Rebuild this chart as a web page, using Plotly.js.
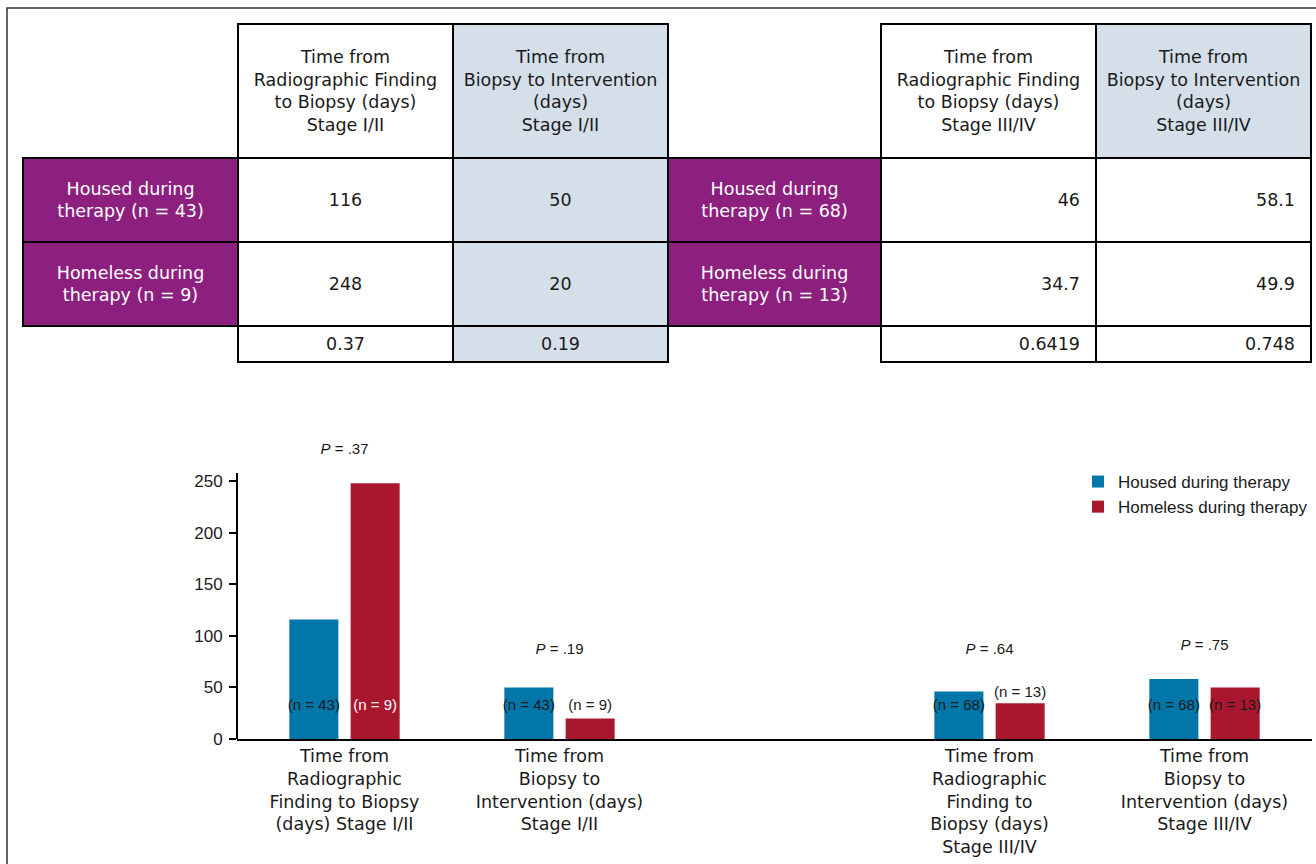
<!DOCTYPE html>
<html><head><meta charset="utf-8">
<script src="https://cdn.plot.ly/plotly-3.0.1.min.js"></script>
<style>html,body{margin:0;padding:0;background:#fff}#chart{width:1316px;height:864px}</style>
</head><body><div id="chart"></div>
<script>
// ---------- data ----------
const categories = [
  "Time from<br>Radiographic<br>Finding to Biopsy<br>(days) Stage I/II",
  "Time from<br>Biopsy to<br>Intervention (days)<br>Stage I/II",
  "Time from<br>Radiographic<br>Finding to<br>Biopsy (days)<br>Stage III/IV",
  "Time from<br>Biopsy to<br>Intervention (days)<br>Stage III/IV"
];
const tableHeaders = [
  "Time from<br>Radiographic Finding<br>to Biopsy (days)<br>Stage I/II",
  "Time from<br>Biopsy to Intervention<br>(days)<br>Stage I/II",
  "Time from<br>Radiographic Finding<br>to Biopsy (days)<br>Stage III/IV",
  "Time from<br>Biopsy to Intervention<br>(days)<br>Stage III/IV"
];
const housedValues   = [116, 50, 46, 58.1];
const homelessValues = [248, 20, 34.7, 49.9];
const pValues        = [0.37, 0.19, 0.6419, 0.748];
const housedN        = [43, 43, 68, 68];
const homelessN      = [9, 9, 13, 13];
const seriesNames    = ["Housed during therapy", "Homeless during therapy"];
const yTicks         = [0, 50, 100, 150, 200, 250];

// ---------- styles ----------
const BLUE = "#0076a9", RED = "#a9172f", PURPLE = "#8d207f", LIGHT = "#d5dfea";
const TXT = "#1a1a1a", CLEAR = "rgba(0,0,0,0)";
const ARIAL = "Liberation Sans, Arial, sans-serif";
const COND = "DejaVu Sans, sans-serif";
const W = 1316, H = 864;
const fx = p => p / W, fy = p => 1 - p / H;
const homelessLabelColors = ["white", TXT, TXT, TXT];
const TFONT = 17.5;
const AXIS_TOP = 258;   // where the drawn y-axis line ends
const Y_MAX = 290;      // room above the axis for the P labels

const spacer = " ";
const axisCats = [categories[0], categories[1], spacer, categories[2], categories[3]];

const labelY = v => (v >= 40 ? 32 : Math.max(32, v + 10));

const traces = [];
// bars
traces.push({type: "bar", name: seriesNames[0], x: categories, y: housedValues,
  marker: {color: BLUE}, hoverinfo: "x+y"});
traces.push({type: "bar", name: seriesNames[1], x: categories, y: homelessValues,
  marker: {color: RED}, hoverinfo: "x+y"});
// n labels (grouped scatter text, aligned with the bars)
traces.push({type: "scatter", mode: "text", x: categories, y: housedValues.map(labelY),
  text: housedN.map(n => `(n = ${n})`), textposition: "middle center",
  textfont: {family: ARIAL, size: 15, color: TXT}, showlegend: false, cliponaxis: false, hoverinfo: "skip"});
traces.push({type: "scatter", mode: "text", x: categories, y: homelessValues.map(labelY),
  text: homelessN.map(n => `(n = ${n})`), textposition: "middle center",
  textfont: {family: ARIAL, size: 15, color: homelessLabelColors}, showlegend: false, cliponaxis: false, hoverinfo: "skip"});
// P labels (centred on each group, on an overlaid category axis)
traces.push({type: "scatter", mode: "text", xaxis: "x2", yaxis: "y", x: categories,
  y: categories.map((c, i) => Math.max(Math.max(housedValues[i], homelessValues[i]) + 32, 86)),
  text: pValues.map(p => `<i>P</i> = ${p.toFixed(2).replace(/^0/, "")}`), textposition: "middle center",
  textfont: {family: ARIAL, size: 15, color: TXT}, showlegend: false, cliponaxis: false, hoverinfo: "skip"});

// ---------- tables ----------
const fmtP = p => String(p);
function rowLabel(kind, n) { return `${kind} during<br>therapy (n = ${n})`; }
const tableMain = (dom, widths, hdr, vals, fills, aligns) => ({
  type: "table", domain: dom, columnwidth: widths,
  header: {values: ["", hdr[0], hdr[1]], height: 134, align: "center",
    fill: {color: [CLEAR, "white", LIGHT]}, line: {color: [CLEAR, "black", "black"], width: 2},
    font: {family: COND, size: TFONT, color: TXT}},
  cells: {values: vals, height: 84, align: aligns,
    fill: {color: fills}, line: {color: "black", width: 2},
    font: {family: COND, size: TFONT, color: ["white", TXT, TXT]}}
});
const tableP = (dom, widths, ps, fills, aligns) => ({
  type: "table", domain: dom, columnwidth: widths,
  header: {values: ["", fmtP(ps[0]), fmtP(ps[1])], height: 36, align: aligns,
    fill: {color: fills}, line: {color: [CLEAR, "black", "black"], width: 2},
    font: {family: COND, size: TFONT, color: TXT}},
  cells: {values: []}
});
traces.push(tableMain({x: [fx(23), fx(668)], y: [fy(332), fy(24)]}, [215, 215, 215],
  [tableHeaders[0], tableHeaders[1]],
  [[rowLabel("Housed", housedN[0]), rowLabel("Homeless", homelessN[0])],
   [String(housedValues[0]), String(homelessValues[0])],
   [String(housedValues[1]), String(homelessValues[1])]],
  [PURPLE, "white", LIGHT], "center"));
traces.push(tableMain({x: [fx(668), fx(1311)], y: [fy(332), fy(24)]}, [213, 215, 215],
  [tableHeaders[2], tableHeaders[3]],
  [[rowLabel("Housed", housedN[2]), rowLabel("Homeless", homelessN[2])],
   [String(housedValues[2]), String(homelessValues[2])],
   [String(housedValues[3]), String(homelessValues[3])]],
  [PURPLE, "white", "white"], ["center", "right", "right"]));
traces.push(tableP({x: [fx(23), fx(668)], y: [fy(372), fy(326)]}, [215, 215, 215],
  [pValues[0], pValues[1]], [CLEAR, "white", LIGHT], "center"));
traces.push(tableP({x: [fx(668), fx(1311)], y: [fy(372), fy(326)]}, [213, 215, 215],
  [pValues[2], pValues[3]], [CLEAR, "white", "white"], ["center", "right", "right"]));

// plot area: 1.031 px per unit, baseline at 739 px
const PXU = 1.031;
const layout = {
  width: W, height: H, margin: {l: 0, r: 0, t: 0, b: 0},
  paper_bgcolor: "white", plot_bgcolor: "white",
  barmode: "group", bargap: 0.43, bargroupgap: 0.2,
  scattermode: "group", scattergap: 0.43,
  showlegend: true,
  legend: {x: fx(1078), y: fy(464), xanchor: "left", yanchor: "top", bgcolor: CLEAR,
    font: {family: ARIAL, size: 17, color: TXT}, traceorder: "normal"},
  xaxis: {domain: [fx(237), fx(1312)], type: "category", categoryorder: "array", categoryarray: axisCats,
    range: [-0.5, 4.5], showline: true, linecolor: "black", linewidth: 2, ticks: "", showgrid: false, zeroline: false,
    tickfont: {family: COND, size: TFONT, color: TXT}, fixedrange: true},
  xaxis2: {overlaying: "x", type: "category", categoryorder: "array", categoryarray: axisCats,
    range: [-0.5, 4.5], visible: false, fixedrange: true},
  yaxis: {domain: [fy(739), fy(739 - Y_MAX * PXU)], range: [0, Y_MAX], showline: false,
    ticks: "outside", ticklen: 7, tickwidth: 1.5, tickcolor: "black", tickvals: yTicks,
    ticklabelstandoff: 3,
    showgrid: false, zeroline: false, tickfont: {family: ARIAL, size: 17, color: TXT}, fixedrange: true},
  shapes: [
    {type: "path", xref: "paper", yref: "paper",
     path: `M${fx(7)},0 L${fx(7)},${fy(8)} L1,${fy(8)}`, line: {color: "#333", width: 1.5}},
    {type: "line", xref: "x domain", yref: "y", x0: 0, x1: 0, y0: 0, y1: AXIS_TOP,
     line: {color: "black", width: 2}}
  ]
};

// centre every line of table text (and vertically centre the block) inside its cell
const PAD = 16;
function alignTableText() {
  document.querySelectorAll("#chart g.column-cell").forEach(cell => {
    const rect = cell.querySelector("rect.cell-rect");
    const holder = cell.querySelector("g.cell-text-holder");
    const text = holder && holder.querySelector("text.cell-text");
    if (!rect || !text) return;
    const w = +rect.getAttribute("width"), h = +rect.getAttribute("height");
    if (!holder.dataset.al) {
      let al = null;
      const d = text.__data__ || holder.__data__ || cell.__data__;
      if (d && typeof d.align === "string") al = d.align;
      if (!al) {
        const m = holder.transform.baseVal.consolidate();
        const tx = m ? m.matrix.e : 0;
        const bw = text.getBBox().width;
        if (Math.abs(tx - (w - bw) / 2) < 3) al = "center";
        else if (tx > (w - bw) / 2) al = "right";
        else al = "left";
      }
      holder.dataset.al = al;
    }
    const al = holder.dataset.al;
    const ax = al === "right" ? w - PAD : al === "center" ? w / 2 : PAD;
    text.setAttribute("text-anchor", al === "right" ? "end" : al === "center" ? "middle" : "start");
    text.setAttribute("x", ax);
    text.querySelectorAll("tspan.line").forEach(t => t.setAttribute("x", ax));
    holder.setAttribute("transform", "translate(0,0)");
    const bb = text.getBBox();
    if (bb.height > 0) holder.setAttribute("transform", `translate(0,${(h - bb.height) / 2 - bb.y})`);
  });
}

Plotly.newPlot("chart", traces, layout, {displayModeBar: false}).then(gd => {
  alignTableText();
  gd.on("plotly_afterplot", alignTableText);
  setTimeout(alignTableText, 200);
});
</script></body></html>
